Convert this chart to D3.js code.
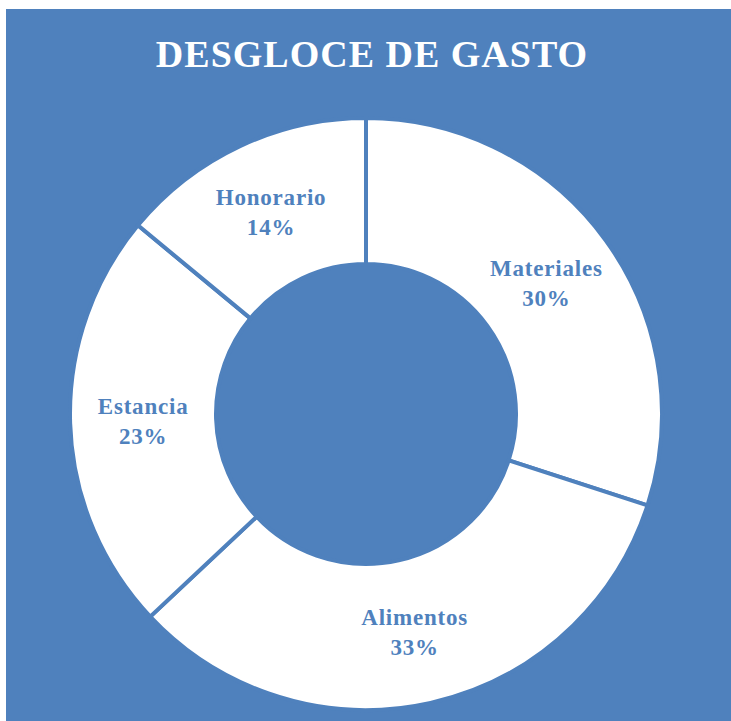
<!DOCTYPE html>
<html>
<head>
<meta charset="utf-8">
<script src="https://cdn.jsdelivr.net/npm/d3@7"></script>
<style>
  body { margin: 0; background: #fff; }
  svg { display: block; }
</style>
</head>
<body>
<svg id="drawing_region"></svg>
<script>
// datos del gráfico
const categories = ['Materiales', 'Alimentos', 'Estancia', 'Honorario'];
const values = [30, 33, 23, 14];
const title = 'DESGLOCE DE GASTO';

const width = 731, height = 721;
const blue = '#4F81BD';

const svg = d3.select('#drawing_region')
    .attr('width', width)
    .attr('height', height);

// fondo azul
svg.append('rect')
    .attr('x', 6).attr('y', 9)
    .attr('width', width - 6).attr('height', height - 9)
    .attr('fill', blue);

svg.append('text')
    .attr('x', 372).attr('y', 67)
    .attr('text-anchor', 'middle')
    .attr('fill', '#fff')
    .style('font-family', '"Liberation Serif", serif')
    .style('font-weight', 'bold')
    .style('font-size', '38px')
    .style('letter-spacing', '1px')
    .text(title);

const data = categories.map((c, i) => ({ name: c, value: values[i] }));
const total = d3.sum(values);

const pie = d3.pie()
    .value(d => d.value)
    .sort(null);

const arc = d3.arc()
    .innerRadius(150)
    .outerRadius(296);

const chart = svg.append('g')
    .attr('transform', 'translate(366, 414)');

chart.selectAll('path')
    .data(pie(data))
    .enter()
    .append('path')
    .attr('d', arc)
    .attr('fill', '#fff')
    .attr('stroke', blue)
    .attr('stroke-width', 4);

const labels = chart.selectAll('text')
    .data(pie(data))
    .enter()
    .append('text')
    .attr('transform', d => `translate(${arc.centroid(d)})`)
    .attr('text-anchor', 'middle')
    .attr('fill', blue)
    .style('font-family', '"Liberation Serif", serif')
    .style('font-weight', 'bold')
    .style('font-size', '23px')
    .style('letter-spacing', '0.8px');

labels.append('tspan')
    .attr('x', 0).attr('y', -7)
    .text(d => d.data.name);

labels.append('tspan')
    .attr('x', 0).attr('y', 23)
    .text(d => Math.round(d.data.value / total * 100) + '%');
</script>
</body>
</html>
